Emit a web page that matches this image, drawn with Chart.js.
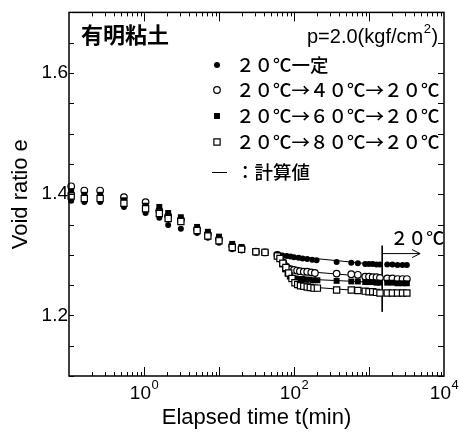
<!DOCTYPE html>
<html>
<head>
<meta charset="utf-8">
<script src="https://cdn.jsdelivr.net/npm/chart.js@4/dist/chart.umd.min.js"></script>
<style>
  html, body { margin: 0; padding: 0; background: #fff; }
</style>
</head>
<body>
<canvas id="chart" width="459" height="436"></canvas>
<script>
// elapsed time (min) shared by the early part of all four tests
const earlyT = [0.107, 0.16, 0.26, 0.54, 1.05, 1.6, 2.1, 3.1, 5.1, 7.1, 10, 15, 20, 31, 41, 60];

// 20℃ constant (filled circles)
const t20 = earlyT.concat([70, 80, 90, 100, 115, 130, 150, 175, 200, 370, 580, 710, 890, 1000, 1120, 1260, 1400, 1750, 2050, 2400, 2800, 3200]);
const e20 = [1.389, 1.387, 1.387, 1.379, 1.369, 1.361, 1.349, 1.343, 1.336, 1.328, 1.320, 1.309, 1.307, 1.304, 1.303, 1.300,
  1.299, 1.298, 1.297, 1.296, 1.295, 1.294, 1.293, 1.292, 1.291, 1.288, 1.287, 1.286, 1.285, 1.285, 1.285, 1.284, 1.284, 1.284, 1.284, 1.283, 1.283, 1.283];

// 20℃→40℃→20℃ (open circles)
const t40 = earlyT.concat([66, 72, 78, 85, 92, 100, 110, 120, 135, 150, 170, 190, 370, 580, 710, 890, 1000, 1120, 1260, 1400, 1750, 2050, 2400, 2800, 3200]);
const e40 = [1.413, 1.406, 1.406, 1.395, 1.387, 1.373, 1.364, 1.358, 1.342, 1.334, 1.326, 1.315, 1.311, 1.305, 1.304, 1.300,
  1.294, 1.287, 1.281, 1.277, 1.276, 1.275, 1.274, 1.273, 1.272, 1.272, 1.271, 1.270, 1.269, 1.268, 1.267, 1.264, 1.264, 1.263, 1.263, 1.262, 1.261, 1.261, 1.260, 1.260, 1.260];

// 20℃→60℃→20℃ (filled squares)
const t60 = earlyT.concat([65, 70, 76, 82, 88, 95, 105, 115, 130, 145, 160, 180, 205, 370, 580, 710, 890, 1000, 1120, 1260, 1400, 1750, 2050, 2400, 2800, 3200]);
const e60 = [1.405, 1.399, 1.399, 1.390, 1.381, 1.379, 1.369, 1.362, 1.346, 1.338, 1.330, 1.318, 1.313, 1.306, 1.305, 1.300,
  1.293, 1.284, 1.276, 1.269, 1.264, 1.262, 1.261, 1.260, 1.260, 1.259, 1.259, 1.258, 1.258, 1.257, 1.256, 1.256, 1.255, 1.255, 1.255, 1.254, 1.254, 1.254, 1.254, 1.253, 1.253, 1.253];

// 20℃→80℃→20℃ (open squares)
const t80 = earlyT.concat([65, 71, 78, 85, 94, 103, 112, 122, 135, 150, 165, 185, 205, 370, 580, 710, 890, 1000, 1120, 1260, 1400, 1750, 2050, 2400, 2800, 3200]);
const e80 = [1.397, 1.393, 1.393, 1.385, 1.376, 1.368, 1.360, 1.355, 1.340, 1.331, 1.323, 1.312, 1.309, 1.305, 1.304, 1.298,
  1.294, 1.286, 1.279, 1.270, 1.261, 1.254, 1.251, 1.249, 1.248, 1.247, 1.246, 1.245, 1.245, 1.242, 1.242, 1.241, 1.240, 1.239, 1.239, 1.238, 1.237, 1.237, 1.237, 1.237, 1.237, 1.237];

// calculated values (solid lines)
const calcT20 = [60, 1500];
const calcE20 = [1.300, 1.283];
const calcT40 = [60, 75, 90, 200, 1500];
const calcE40 = [1.300, 1.283, 1.277, 1.271, 1.262];
const calcT60 = [60, 72, 88, 200, 1500];
const calcE60 = [1.300, 1.278, 1.265, 1.259, 1.254];
const calcT80 = [60, 75, 100, 200, 1500];
const calcE80 = [1.300, 1.276, 1.255, 1.246, 1.238];

// return to 20℃ marker
const backT = 1500;
const backLineE = [1.315, 1.206];
const arrowE = 1.302;
const arrowEndT = 4800;

const legendLabels = ["２０℃一定", "２０℃→４０℃→２０℃", "２０℃→６０℃→２０℃", "２０℃→８０℃→２０℃"];
const yLabels = [1.2, 1.4, 1.6];
const xLabelValues = [1, 100, 10000];
const xLabelExp = ["0", "2", "4"];

const pts = (ts, es) => ts.map((t, i) => ({ x: t, y: es[i] }));
const LATIN = "'Liberation Sans', Arial, sans-serif";
const CJK = "'Noto Sans CJK JP', sans-serif";

const styles = [
  { pointStyle: "circle", radius: 3, fill: "#000", bw: 0 },
  { pointStyle: "circle", radius: 3.3, fill: "#fff", bw: 1.2 },
  { pointStyle: "rect", radius: 4.2, fill: "#000", bw: 0 },
  { pointStyle: "rect", radius: 4.4, fill: "#fff", bw: 1.2 },
];
const series = [pts(t20, e20), pts(t40, e40), pts(t60, e60), pts(t80, e80)];
const calcs = [pts(calcT20, calcE20), pts(calcT40, calcE40), pts(calcT60, calcE60), pts(calcT80, calcE80)];

const datasets = [];
calcs.forEach((d, i) => datasets.push({
  label: "calc" + i, data: d, showLine: true, pointRadius: 0,
  borderColor: "#000", borderWidth: 1, tension: 0, order: 10,
}));
series.forEach((d, i) => datasets.push({
  label: legendLabels[i], data: d, showLine: false, clip: false,
  pointStyle: styles[i].pointStyle, pointRadius: styles[i].radius,
  backgroundColor: styles[i].fill, borderColor: "#000", borderWidth: styles[i].bw,
  order: 4 - i,
}));
datasets.push({
  label: "back", data: [{ x: backT, y: backLineE[0] }, { x: backT, y: backLineE[1] }],
  showLine: true, pointRadius: 0, borderColor: "#000", borderWidth: 1, order: 11,
});

function marker(ctx, i, x, y) {
  const s = styles[i];
  ctx.beginPath();
  if (s.pointStyle === "circle") ctx.arc(x, y, s.radius, 0, Math.PI * 2);
  else { const h = s.radius * Math.SQRT1_2; ctx.rect(x - h, y - h, 2 * h, 2 * h); }
  ctx.fillStyle = s.fill; ctx.fill();
  if (s.bw) { ctx.lineWidth = s.bw; ctx.strokeStyle = "#000"; ctx.stroke(); }
}

const decor = {
  id: "decor",
  afterDraw(chart) {
    const { ctx, chartArea: a, scales: { x, y } } = chart;
    ctx.save();
    ctx.strokeStyle = "#000";
    ctx.lineWidth = 1.5;
    ctx.strokeRect(a.left, a.top, a.right - a.left, a.bottom - a.top);
    ctx.lineWidth = 1;
    ctx.beginPath();
    y.ticks.forEach(t => {
      const py = Math.round(y.getPixelForValue(t.value)) + 0.5;
      ctx.moveTo(a.left, py); ctx.lineTo(a.left + 5, py);
      ctx.moveTo(a.right, py); ctx.lineTo(a.right - 6, py);
    });
    for (let d = -1; d < 4; d++) {
      for (let m = 1; m < 10; m++) {
        const v = m * Math.pow(10, d);
        if (v <= x.min || v >= x.max) continue;
        const px = Math.round(x.getPixelForValue(v)) + 0.5;
        const len = m === 1 ? 9 : 4;
        ctx.moveTo(px, a.bottom); ctx.lineTo(px, a.bottom - len);
        ctx.moveTo(px, a.top); ctx.lineTo(px, a.top + len);
      }
    }
    ctx.stroke();

    ctx.fillStyle = "#000";
    ctx.textBaseline = "alphabetic";
    // x tick labels 10^n with real superscripts
    xLabelValues.forEach((v, i) => {
      const px = x.getPixelForValue(v);
      ctx.font = "19px " + LATIN;
      const wb = ctx.measureText("10").width;
      ctx.font = "13px " + LATIN;
      const we = ctx.measureText(xLabelExp[i]).width;
      const x0 = px - (wb + we) / 2;
      ctx.textAlign = "left";
      ctx.font = "19px " + LATIN;
      ctx.fillText("10", x0, a.bottom + 23);
      ctx.font = "13px " + LATIN;
      ctx.fillText(xLabelExp[i], x0 + wb + 0.5, a.bottom + 13);
    });

    // arrow for return to 20℃
    const ax = x.getPixelForValue(backT), bx = x.getPixelForValue(arrowEndT);
    const ay = y.getPixelForValue(arrowE);
    ctx.beginPath();
    ctx.moveTo(ax, ay); ctx.lineTo(bx, ay);
    ctx.moveTo(bx - 8, ay - 4); ctx.lineTo(bx, ay); ctx.lineTo(bx - 8, ay + 4);
    ctx.stroke();

    ctx.textBaseline = "middle";
    ctx.textAlign = "left";
    ctx.font = "500 18px " + CJK;
    ctx.fillText("２０℃", ax + 8, ay - 15);

    // titles in the plot
    ctx.font = "bold 22px " + CJK;
    ctx.fillText("有明粘土", 81, 35);
    ctx.font = "20px " + LATIN;
    const p1 = "p=2.0(kgf/cm";
    ctx.fillText(p1, 307, 37);
    let w = ctx.measureText(p1).width;
    ctx.font = "13px " + LATIN;
    ctx.fillText("2", 307 + w + 0.5, 29);
    w += ctx.measureText("2").width;
    ctx.font = "20px " + LATIN;
    ctx.fillText(")", 307 + w + 1, 37);

    // legend
    const rows = [65, 90, 116, 142];
    ctx.font = "500 18.5px " + CJK;
    legendLabels.forEach((lab, i) => {
      marker(ctx, i, 217, rows[i]);
      ctx.fillStyle = "#000";
      ctx.fillText(lab, 236, rows[i]);
    });
    ctx.beginPath();
    ctx.lineWidth = 1;
    ctx.moveTo(212, 172.5); ctx.lineTo(227, 172.5);
    ctx.stroke();
    ctx.fillText("：計算値", 236, 172);
    ctx.restore();
  },
};

new Chart(document.getElementById("chart"), {
  type: "scatter",
  data: { datasets },
  options: {
    responsive: false,
    animation: false,
    devicePixelRatio: 1,
    layout: { padding: { top: 8, right: 15, left: 0, bottom: 0 } },
    plugins: { legend: { display: false }, tooltip: { enabled: false } },
    scales: {
      x: {
        type: "logarithmic",
        min: 0.1,
        max: 10000,
        grid: { display: false, drawTicks: false },
        border: { display: false },
        afterFit: s => { s.height = 60; },
        ticks: { display: false },
        title: {
          display: true, text: "Elapsed time t(min)", color: "#000",
          font: { family: LATIN, size: 22 }, padding: { top: 0, bottom: 5 },
        },
      },
      y: {
        min: 1.1,
        max: 1.7,
        grid: { display: false, drawTicks: false },
        border: { display: false },
        afterFit: s => { s.width = 69; },
        ticks: {
          stepSize: 0.05, padding: 1, color: "#000",
          font: { family: LATIN, size: 19 },
          callback: v => (yLabels.some(l => Math.abs(l - v) < 1e-6) ? v.toFixed(1) : ""),
        },
        title: {
          display: true, text: "Void ratio e", color: "#000",
          font: { family: LATIN, size: 22 }, padding: { top: 8, bottom: 0 },
        },
      },
    },
  },
  plugins: [decor],
});
</script>
</body>
</html>
